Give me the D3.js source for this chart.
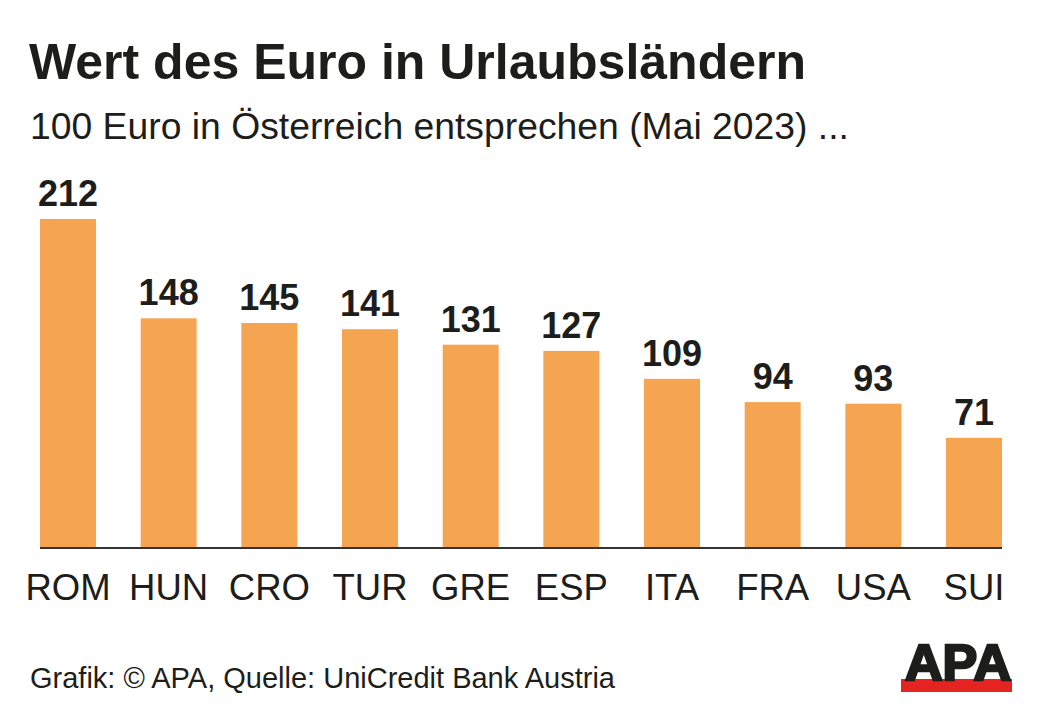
<!DOCTYPE html>
<html>
<head>
<meta charset="utf-8">
<script src="https://cdn.jsdelivr.net/npm/d3@7"></script>
<style>
  body { margin: 0; background: #fff; }
  text { font-family: "Liberation Sans", Arial, Helvetica, sans-serif; }
</style>
</head>
<body>
<div id="wrapper"></div>
<script>
// Daten
const countries = ["ROM", "HUN", "CRO", "TUR", "GRE", "ESP", "ITA", "FRA", "USA", "SUI"];
const values = [212, 148, 145, 141, 131, 127, 109, 94, 93, 71];

const titleText = "Wert des Euro in Urlaubsländern";
const subtitleText = "100 Euro in Österreich entsprechen (Mai 2023) ...";
const sourceText = "Grafik: © APA, Quelle: UniCredit Bank Austria";

function buildChart() {
    const dimension = {
        width: 1039,
        height: 709,
        left: 40,
        right: 1002,
        baseline: 548
    };

    const svg = d3.select("#wrapper").append("svg")
        .attr("width", dimension.width)
        .attr("height", dimension.height);

    const barColor = "#f5a552";
    const textColor = "#1d1d1b";

    // Titel + Untertitel
    svg.append("text")
        .attr("x", 29).attr("y", 79)
        .attr("font-size", 50).attr("font-weight", "bold")
        .attr("fill", textColor)
        .text(titleText);

    svg.append("text")
        .attr("x", 30).attr("y", 139)
        .attr("font-size", 37.3)
        .attr("fill", textColor)
        .text(subtitleText);

    // Skalen
    const data = countries.map((c, i) => ({country: c, value: values[i]}));
    const pInner = 0.444;
    const step = (dimension.right - dimension.left) / (countries.length - pInner);
    const xScaler = d3.scaleBand()
        .domain(countries)
        .range([dimension.left - step * pInner / 2, dimension.right + step * pInner / 2])
        .paddingInner(pInner)
        .paddingOuter(pInner / 2);

    const yScaler = d3.scaleLinear()
        .domain([0, 212])
        .range([dimension.baseline, 219]);

    // Balken
    svg.append("g").selectAll("rect")
        .data(data)
        .join("rect")
        .attr("x", d => xScaler(d.country))
        .attr("y", d => yScaler(d.value))
        .attr("width", xScaler.bandwidth())
        .attr("height", d => yScaler(0) - yScaler(d.value))
        .attr("fill", barColor);

    // Werte
    svg.append("g").selectAll("text")
        .data(data)
        .join("text")
        .attr("x", d => xScaler(d.country) + xScaler.bandwidth() / 2)
        .attr("y", d => yScaler(d.value) - 13)
        .attr("text-anchor", "middle")
        .attr("font-size", 36).attr("font-weight", "bold")
        .attr("fill", textColor)
        .text(d => d.value);

    // x-Achse
    const xAxisGenerator = d3.axisBottom(xScaler).tickSize(0).tickPadding(0);
    const xAxis = svg.append("g")
        .attr("transform", `translate(0, ${dimension.baseline})`)
        .call(xAxisGenerator);
    xAxis.select(".domain")
        .attr("d", `M${dimension.left},0H${dimension.right}`)
        .attr("stroke", "#333")
        .attr("stroke-width", 2);
    xAxis.selectAll(".tick text")
        .attr("dy", null)
        .attr("y", 52)
        .attr("font-size", 36.5)
        .attr("font-family", "Liberation Sans, Arial, sans-serif")
        .attr("fill", textColor);

    // Quelle
    svg.append("text")
        .attr("x", 30).attr("y", 688)
        .attr("font-size", 29)
        .attr("fill", textColor)
        .text(sourceText);

    // APA-Logo
    const logo = svg.append("g");
    logo.append("rect")
        .attr("x", 901).attr("y", 679)
        .attr("width", 111).attr("height", 13)
        .attr("fill", "#e52421");
    logo.append("text")
        .attr("x", 905).attr("y", 680)
        .attr("font-size", 50).attr("font-weight", "bold")
        .attr("textLength", 106).attr("lengthAdjust", "spacingAndGlyphs")
        .attr("fill", "#1d1d1b")
        .attr("stroke", "#1d1d1b").attr("stroke-width", 2.5)
        .text("APA");
}

buildChart();
</script>
</body>
</html>
